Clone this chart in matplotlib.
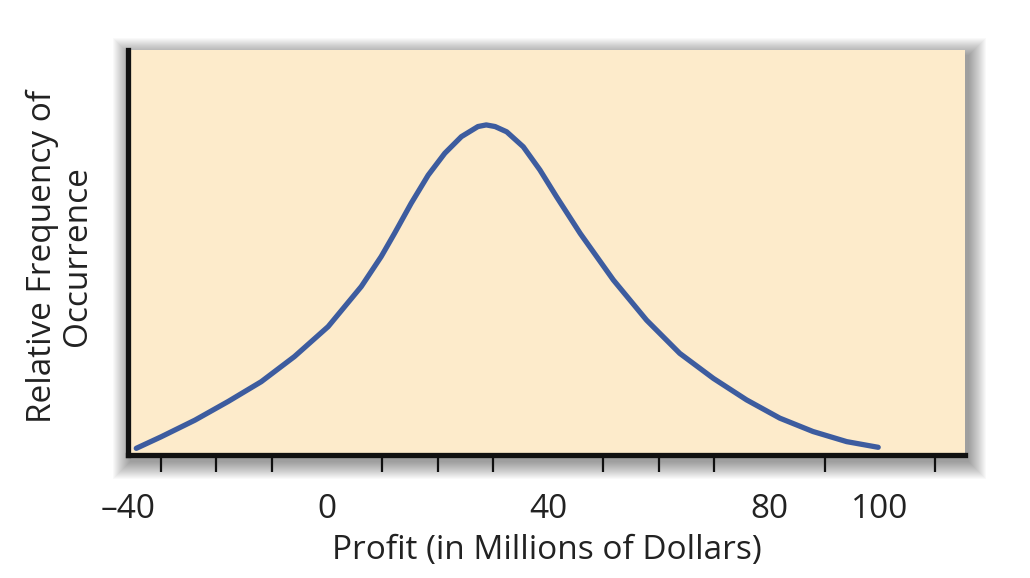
import matplotlib
matplotlib.use('Agg')
import matplotlib.pyplot as plt
from matplotlib.patches import Rectangle

# curve (profit in $M, relative frequency 0-100)
profit = [-34.5, -30.0, -23.9, -17.9, -11.9, -5.9, 0.2, 6.2, 9.8, 12.2,
          15.2, 18.3, 21.3, 24.3, 27.3, 28.8, 30.4, 32.5, 35.5, 38.5,
          41.5, 45.8, 51.8, 57.8, 63.8, 69.9, 75.9, 81.9, 87.9, 94.0, 99.7]
frequency = [1.65, 4.5, 8.6, 13.2, 18.1, 24.3, 31.7, 41.6, 49.0, 54.7,
             62.1, 69.1, 74.5, 78.6, 81.1, 81.5, 81.1, 79.8, 76.1, 70.4,
             63.8, 54.7, 43.2, 33.3, 25.1, 18.9, 13.6, 9.1, 5.8, 3.3, 1.9]

tick_marks = list(range(-30, 111, 10))
label_pos = [-36, 0, 40, 80, 100]
label_text = ['\u201340', '0', '40', '80', '100']

W, H = 1030, 578
FONT = 'Open Sans'


def fx(px):
    return px / W


def fy(py):
    return 1 - py / H


fig = plt.figure(figsize=(W / 100, H / 100), dpi=100)
fig.patch.set_facecolor('white')

# soft drop shadow around the plot box
left, right, top, bottom = 128, 965, 50, 455
for i in range(18, 0, -1):
    r = Rectangle((fx(left - i + 3), fy(bottom + i + 6)),
                  fx(right - left + 2 * i), (bottom - top + 2 * i) / H,
                  transform=fig.transFigure, facecolor='black',
                  edgecolor='none', alpha=0.025, zorder=0)
    fig.add_artist(r)

ax = fig.add_axes([fx(left), fy(bottom), fx(right - left), (bottom - top) / H])
ax.set_facecolor('#fdebcb')
ax.set_zorder(2)

ax.plot(profit, frequency, color='#3d5c9f', lw=3.8,
        solid_capstyle='round', solid_joinstyle='round')

ax.set_xlim(-36, 115.4)
ax.set_ylim(0, 100)

for s in ['top', 'right']:
    ax.spines[s].set_visible(False)
for s in ['left', 'bottom']:
    ax.spines[s].set_linewidth(3.8)
    ax.spines[s].set_color('#111111')

ax.set_yticks([])
ax.set_xticks(tick_marks, minor=True)
ax.set_xticks(label_pos)
ax.set_xticklabels(label_text, fontsize=24, family=FONT, color='#222222')
ax.tick_params(axis='x', which='major', length=0, pad=27)
ax.tick_params(axis='x', which='minor', length=12, width=1.6,
               color='#111111', direction='out')

fig.text(fx((left + right) / 2), fy(550), 'Profit (in Millions of Dollars)',
         ha='center', va='center', fontsize=24, family=FONT, color='#222222')
fig.text(fx(60), fy(256), 'Relative Frequency of\nOccurrence', rotation=90,
         ha='center', va='center', multialignment='center', linespacing=1.05,
         fontsize=24, family=FONT, color='#222222')

fig.savefig('out.png', dpi=100)
